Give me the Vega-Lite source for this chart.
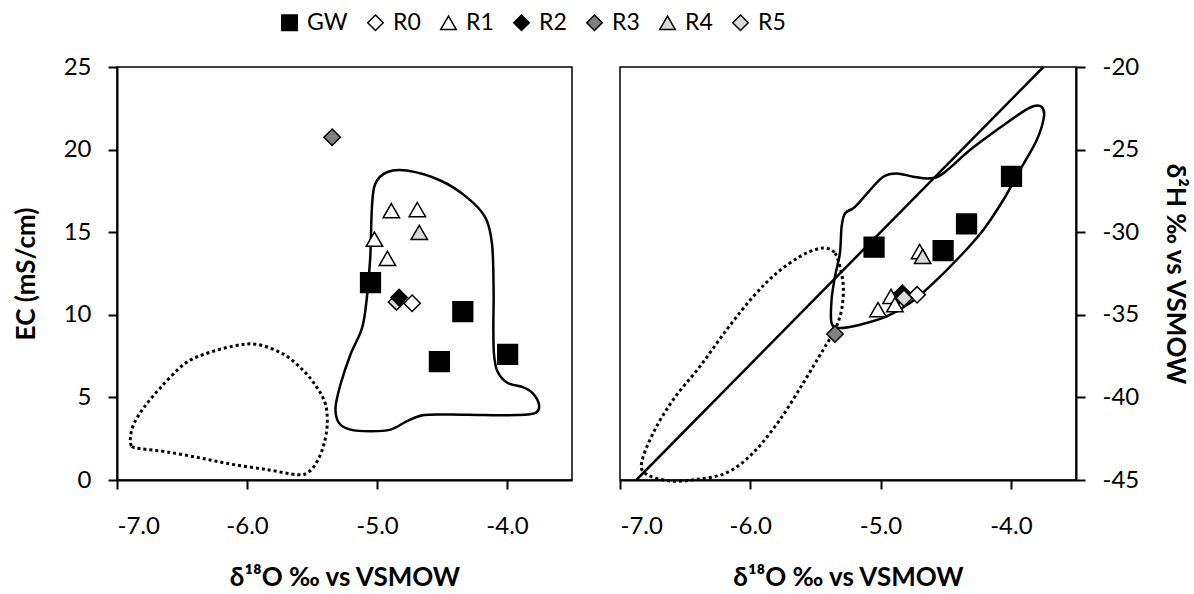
{
  "$schema": "https://vega.github.io/schema/vega-lite/v6.json",
  "background": "white",
  "padding": {"left": 12, "top": 11, "right": 5, "bottom": 5},
  "datasets": {
    "left_points": [
      {"series": "GW", "d18O": -5.05, "val": 11.95},
      {"series": "GW", "d18O": -4.52, "val": 7.16},
      {"series": "GW", "d18O": -4.34, "val": 10.19},
      {"series": "GW", "d18O": -3.995, "val": 7.6},
      {"series": "R0", "d18O": -4.73, "val": 10.7},
      {"series": "R1", "d18O": -5.02, "val": 14.58},
      {"series": "R1", "d18O": -4.92, "val": 13.41},
      {"series": "R1", "d18O": -4.89, "val": 16.3},
      {"series": "R1", "d18O": -4.69, "val": 16.37},
      {"series": "R5", "d18O": -4.85, "val": 10.78},
      {"series": "R2", "d18O": -4.83, "val": 11.05},
      {"series": "R3", "d18O": -5.345, "val": 20.75},
      {"series": "R4", "d18O": -4.675, "val": 14.99}
    ],
    "right_points": [
      {"series": "GW", "d18O": -5.05, "val": -30.91},
      {"series": "GW", "d18O": -4.52, "val": -31.11},
      {"series": "GW", "d18O": -4.34, "val": -29.5},
      {"series": "GW", "d18O": -3.995, "val": -26.62},
      {"series": "R0", "d18O": -4.72, "val": -33.79},
      {"series": "R1", "d18O": -5.02, "val": -34.69},
      {"series": "R1", "d18O": -4.92, "val": -33.89},
      {"series": "R1", "d18O": -4.89, "val": -34.39},
      {"series": "R1", "d18O": -4.7, "val": -31.17},
      {"series": "R2", "d18O": -4.833, "val": -33.69},
      {"series": "R3", "d18O": -5.35, "val": -36.16},
      {"series": "R4", "d18O": -4.677, "val": -31.47},
      {"series": "R5", "d18O": -4.82, "val": -33.99}
    ],
    "left_solid": [
      {"i": 1, "x": -4.924, "y": 18.63},
      {"i": 2, "x": -4.77, "y": 18.73},
      {"i": 3, "x": -4.513, "y": 18.13},
      {"i": 4, "x": -4.308, "y": 17.11},
      {"i": 5, "x": -4.167, "y": 15.9},
      {"i": 6, "x": -4.115, "y": 14.28},
      {"i": 7, "x": -4.103, "y": 11.45},
      {"i": 8, "x": -4.105, "y": 9.22},
      {"i": 9, "x": -4.1, "y": 7.6},
      {"i": 10, "x": -4.075, "y": 6.6},
      {"i": 11, "x": -3.998, "y": 5.89},
      {"i": 12, "x": -3.882, "y": 5.63},
      {"i": 13, "x": -3.805, "y": 5.28},
      {"i": 14, "x": -3.754, "y": 4.57},
      {"i": 15, "x": -3.78, "y": 4.07},
      {"i": 16, "x": -3.921, "y": 3.93},
      {"i": 17, "x": -4.177, "y": 3.93},
      {"i": 18, "x": -4.434, "y": 3.96},
      {"i": 19, "x": -4.639, "y": 3.93},
      {"i": 20, "x": -4.768, "y": 3.56},
      {"i": 21, "x": -4.896, "y": 3.05},
      {"i": 22, "x": -5.05, "y": 2.95},
      {"i": 23, "x": -5.204, "y": 3.05},
      {"i": 24, "x": -5.293, "y": 3.46},
      {"i": 25, "x": -5.319, "y": 4.37},
      {"i": 26, "x": -5.281, "y": 5.78},
      {"i": 27, "x": -5.204, "y": 7.6},
      {"i": 28, "x": -5.114, "y": 9.22},
      {"i": 29, "x": -5.078, "y": 11.04},
      {"i": 30, "x": -5.052, "y": 13.47},
      {"i": 31, "x": -5.039, "y": 16.5},
      {"i": 32, "x": -5.014, "y": 17.92}
    ],
    "left_dotted": [
      {"i": 1, "x": -6.897, "y": 2.55},
      {"i": 2, "x": -6.885, "y": 2.04},
      {"i": 3, "x": -6.82, "y": 1.9},
      {"i": 4, "x": -6.615, "y": 1.7},
      {"i": 5, "x": -6.358, "y": 1.33},
      {"i": 6, "x": -6.102, "y": 0.93},
      {"i": 7, "x": -5.845, "y": 0.63},
      {"i": 8, "x": -5.614, "y": 0.32},
      {"i": 9, "x": -5.525, "y": 0.49},
      {"i": 10, "x": -5.46, "y": 1.13},
      {"i": 11, "x": -5.409, "y": 2.14},
      {"i": 12, "x": -5.383, "y": 3.36},
      {"i": 13, "x": -5.396, "y": 4.57},
      {"i": 14, "x": -5.46, "y": 5.58},
      {"i": 15, "x": -5.563, "y": 6.6},
      {"i": 16, "x": -5.717, "y": 7.6},
      {"i": 17, "x": -5.922, "y": 8.21},
      {"i": 18, "x": -6.102, "y": 8.11},
      {"i": 19, "x": -6.333, "y": 7.6},
      {"i": 20, "x": -6.487, "y": 7.0},
      {"i": 21, "x": -6.666, "y": 5.58},
      {"i": 22, "x": -6.795, "y": 4.37},
      {"i": 23, "x": -6.872, "y": 3.36}
    ],
    "right_solid": [
      {"i": 1, "x": -3.764, "y": -22.42},
      {"i": 2, "x": -3.746, "y": -23.02},
      {"i": 3, "x": -3.802, "y": -24.43},
      {"i": 4, "x": -3.93, "y": -26.24},
      {"i": 5, "x": -4.058, "y": -28.05},
      {"i": 6, "x": -4.212, "y": -29.86},
      {"i": 7, "x": -4.391, "y": -31.47},
      {"i": 8, "x": -4.595, "y": -33.08},
      {"i": 9, "x": -4.774, "y": -34.29},
      {"i": 10, "x": -4.953, "y": -35.1},
      {"i": 11, "x": -5.158, "y": -35.6},
      {"i": 12, "x": -5.312, "y": -35.8},
      {"i": 13, "x": -5.376, "y": -35.5},
      {"i": 14, "x": -5.376, "y": -34.09},
      {"i": 15, "x": -5.35, "y": -32.68},
      {"i": 16, "x": -5.312, "y": -31.27},
      {"i": 17, "x": -5.299, "y": -29.66},
      {"i": 18, "x": -5.273, "y": -28.86},
      {"i": 19, "x": -5.209, "y": -28.55},
      {"i": 20, "x": -5.158, "y": -28.15},
      {"i": 21, "x": -5.081, "y": -27.45},
      {"i": 22, "x": -4.979, "y": -26.64},
      {"i": 23, "x": -4.877, "y": -26.44},
      {"i": 24, "x": -4.749, "y": -26.64},
      {"i": 25, "x": -4.621, "y": -26.74},
      {"i": 26, "x": -4.519, "y": -26.44},
      {"i": 27, "x": -4.314, "y": -25.03},
      {"i": 28, "x": -4.109, "y": -23.82},
      {"i": 29, "x": -3.93, "y": -22.82},
      {"i": 30, "x": -3.828, "y": -22.38}
    ],
    "right_dotted": [
      {"i": 1, "x": -5.414, "y": -30.97},
      {"i": 2, "x": -5.35, "y": -31.27},
      {"i": 3, "x": -5.312, "y": -32.08},
      {"i": 4, "x": -5.286, "y": -33.29},
      {"i": 5, "x": -5.299, "y": -34.69},
      {"i": 6, "x": -5.35, "y": -35.9},
      {"i": 7, "x": -5.44, "y": -37.11},
      {"i": 8, "x": -5.593, "y": -39.12},
      {"i": 9, "x": -5.772, "y": -41.34},
      {"i": 10, "x": -5.977, "y": -43.35},
      {"i": 11, "x": -6.181, "y": -44.56},
      {"i": 12, "x": -6.412, "y": -44.96},
      {"i": 13, "x": -6.616, "y": -45.06},
      {"i": 14, "x": -6.795, "y": -44.66},
      {"i": 15, "x": -6.834, "y": -43.95},
      {"i": 16, "x": -6.744, "y": -42.14},
      {"i": 17, "x": -6.591, "y": -40.13},
      {"i": 18, "x": -6.386, "y": -38.12},
      {"i": 19, "x": -6.181, "y": -35.9},
      {"i": 20, "x": -5.977, "y": -33.89},
      {"i": 21, "x": -5.798, "y": -32.48},
      {"i": 22, "x": -5.619, "y": -31.47},
      {"i": 23, "x": -5.491, "y": -31.03}
    ],
    "gmwl": [
      {"x": -6.875, "y": -45},
      {"x": -3.75, "y": -20}
    ]
  },
  "config": {
    "font": "Lato",
    "view": {"stroke": "black", "strokeWidth": 1.5},
    "axis": {
      "grid": false,
      "domainColor": "black",
      "domainWidth": 2,
      "tickColor": "black",
      "tickWidth": 2,
      "tickSize": 9,
      "labelFont": "Lato",
      "labelFontSize": 24,
      "labelColor": "black",
      "titleFont": "Lato",
      "titleFontSize": 26,
      "titleFontWeight": "bold",
      "titleColor": "black"
    },
    "legend": {
      "orient": "none",
      "legendX": 161,
      "legendY": -56,
      "direction": "horizontal",
      "symbolSize": 240,
      "symbolStrokeWidth": 1.5,
      "labelFontSize": 23,
      "labelFont": "Lato",
      "labelColor": "black",
      "columnPadding": 16,
      "labelOffset": 6
    }
  },
  "spacing": 45,
  "resolve": {"scale": {"shape": "shared", "fill": "shared", "stroke": "shared"}, "legend": {"shape": "shared", "fill": "shared", "stroke": "shared"}},
  "hconcat": [
    {
      "width": 455,
      "height": 413,
      "layer": [
        {
          "data": {"name": "left_dotted"},
          "mark": {"type": "line", "interpolate": "cardinal-closed", "stroke": "black", "strokeWidth": 3, "strokeDash": [3, 3]},
          "encoding": {
            "x": {"field": "x", "type": "quantitative", "scale": {"domain": [-7, -3.5], "nice": false, "zero": false},
              "axis": {"values": [-7, -6, -5, -4], "format": ".1f", "labelExpr": "replace(datum.label, '\u2212', '-')", "labelPadding": 25, "titlePadding": 26},
              "title": "δ¹⁸O ‰ vs VSMOW"},
            "y": {"field": "y", "type": "quantitative", "scale": {"domain": [0, 25], "nice": false, "zero": false},
              "axis": {"values": [0, 5, 10, 15, 20, 25], "labelPadding": 17, "titlePadding": 24},
              "title": "EC (mS/cm)"},
            "order": {"field": "i", "type": "quantitative"}
          }
        },
        {
          "data": {"name": "left_solid"},
          "mark": {"type": "line", "interpolate": "cardinal-closed", "stroke": "black", "strokeWidth": 2.5},
          "encoding": {
            "x": {"field": "x", "type": "quantitative"},
            "y": {"field": "y", "type": "quantitative"},
            "order": {"field": "i", "type": "quantitative"}
          }
        },
        {
          "data": {"name": "left_points"},
          "transform": [{"filter": "datum.series == 'GW'"}],
          "mark": {"type": "point", "filled": true, "strokeWidth": 1.5, "opacity": 1, "size": 390},
          "encoding": {
            "x": {"field": "d18O", "type": "quantitative"},
            "y": {"field": "val", "type": "quantitative"},
            "shape": {"field": "series", "type": "nominal",
              "scale": {"domain": ["GW", "R0", "R1", "R2", "R3", "R4", "R5"], "range": ["square", "diamond", "triangle-up", "diamond", "diamond", "triangle-up", "diamond"]},
              "legend": {"title": null}},
            "fill": {"field": "series", "type": "nominal",
              "scale": {"domain": ["GW", "R0", "R1", "R2", "R3", "R4", "R5"], "range": ["black", "white", "white", "black", "#808080", "#d9d9d9", "#d9d9d9"]},
              "legend": {"title": null}},
            "stroke": {"field": "series", "type": "nominal",
              "scale": {"domain": ["GW", "R0", "R1", "R2", "R3", "R4", "R5"], "range": ["black", "black", "black", "black", "black", "black", "black"]},
              "legend": {"title": null}}
          }
        },
        {
          "data": {"name": "left_points"},
          "transform": [{"filter": "datum.series != 'GW'"}],
          "mark": {"type": "point", "filled": true, "strokeWidth": 1.5, "opacity": 1, "size": 270},
          "encoding": {
            "x": {"field": "d18O", "type": "quantitative"},
            "y": {"field": "val", "type": "quantitative"},
            "shape": {"field": "series", "type": "nominal", "legend": {"title": null}},
            "fill": {"field": "series", "type": "nominal", "legend": {"title": null}},
            "stroke": {"field": "series", "type": "nominal", "legend": {"title": null}}
          }
        }
      ]
    },
    {
      "width": 456,
      "height": 413,
      "layer": [
        {
          "data": {"name": "right_dotted"},
          "mark": {"type": "line", "interpolate": "cardinal-closed", "stroke": "black", "strokeWidth": 3, "strokeDash": [3, 3]},
          "encoding": {
            "x": {"field": "x", "type": "quantitative", "scale": {"domain": [-7, -3.5], "nice": false, "zero": false},
              "axis": {"values": [-7, -6, -5, -4], "format": ".1f", "labelExpr": "replace(datum.label, '\u2212', '-')", "labelPadding": 25, "titlePadding": 26},
              "title": "δ¹⁸O ‰ vs VSMOW"},
            "y": {"field": "y", "type": "quantitative", "scale": {"domain": [-45, -20], "nice": false, "zero": false},
              "axis": {"orient": "right", "values": [-45, -40, -35, -30, -25, -20], "labelExpr": "replace(datum.label, '\u2212', '-')", "labelPadding": 17, "titlePadding": 23},
              "title": "δ²H ‰ vs VSMOW"},
            "order": {"field": "i", "type": "quantitative"}
          }
        },
        {
          "data": {"name": "right_solid"},
          "mark": {"type": "line", "interpolate": "cardinal-closed", "stroke": "black", "strokeWidth": 2.5},
          "encoding": {
            "x": {"field": "x", "type": "quantitative"},
            "y": {"field": "y", "type": "quantitative"},
            "order": {"field": "i", "type": "quantitative"}
          }
        },
        {
          "data": {"name": "gmwl"},
          "mark": {"type": "line", "stroke": "black", "strokeWidth": 2.5},
          "encoding": {
            "x": {"field": "x", "type": "quantitative"},
            "y": {"field": "y", "type": "quantitative"}
          }
        },
        {
          "data": {"name": "right_points"},
          "transform": [{"filter": "datum.series == 'GW'"}],
          "mark": {"type": "point", "filled": true, "strokeWidth": 1.5, "opacity": 1, "size": 390},
          "encoding": {
            "x": {"field": "d18O", "type": "quantitative"},
            "y": {"field": "val", "type": "quantitative"},
            "shape": {"field": "series", "type": "nominal", "legend": {"title": null}},
            "fill": {"field": "series", "type": "nominal", "legend": {"title": null}},
            "stroke": {"field": "series", "type": "nominal", "legend": {"title": null}}
          }
        },
        {
          "data": {"name": "right_points"},
          "transform": [{"filter": "datum.series != 'GW'"}],
          "mark": {"type": "point", "filled": true, "strokeWidth": 1.5, "opacity": 1, "size": 270},
          "encoding": {
            "x": {"field": "d18O", "type": "quantitative"},
            "y": {"field": "val", "type": "quantitative"},
            "shape": {"field": "series", "type": "nominal", "legend": {"title": null}},
            "fill": {"field": "series", "type": "nominal", "legend": {"title": null}},
            "stroke": {"field": "series", "type": "nominal", "legend": {"title": null}}
          }
        }
      ]
    }
  ]
}
